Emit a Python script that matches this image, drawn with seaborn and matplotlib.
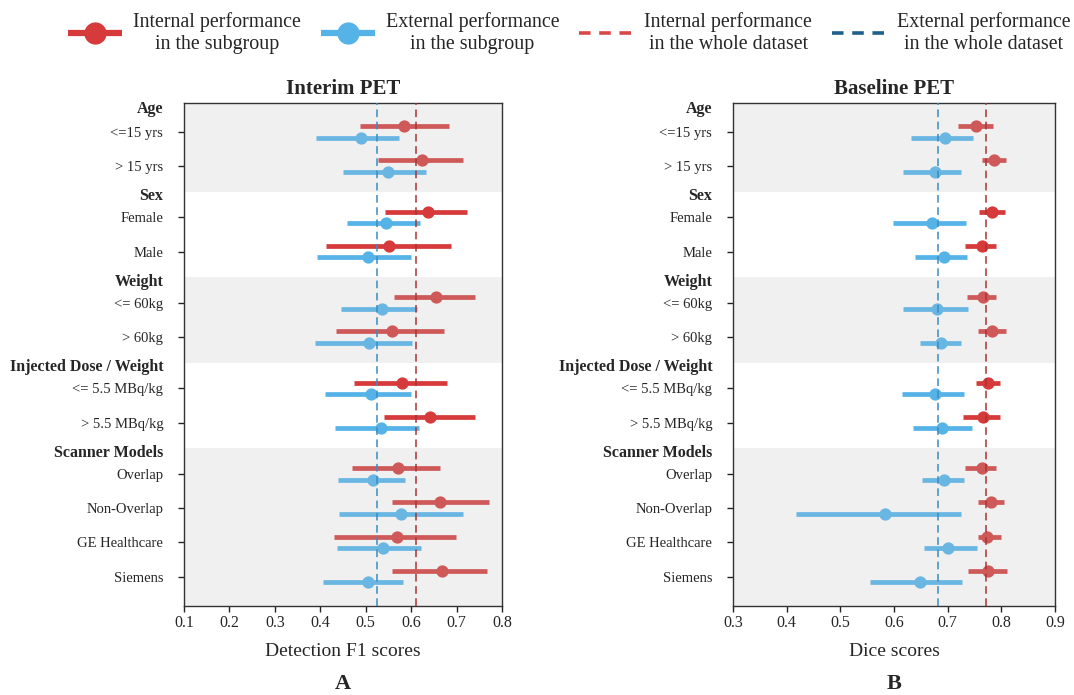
import numpy as np
import pandas as pd
import matplotlib
matplotlib.use("Agg")
import matplotlib.pyplot as plt
from matplotlib.lines import Line2D
import seaborn as sns

# ---------------- data ----------------
groups = ["Age", "Sex", "Weight", "Injected Dose / Weight", "Scanner Models"]
group_sizes = [2, 2, 2, 2, 4]
subgroups = ["<=15 yrs", "> 15 yrs", "Female", "Male", "<= 60kg", "> 60kg",
             "<= 5.5 MBq/kg", "> 5.5 MBq/kg", "Overlap", "Non-Overlap",
             "GE Healthcare", "Siemens"]

# Panel A: Interim PET, detection F1 scores
int_mean_A = [0.584, 0.625, 0.638, 0.552, 0.655, 0.558, 0.579, 0.642, 0.571, 0.664, 0.568, 0.668]
int_lo_A   = [0.487, 0.526, 0.543, 0.413, 0.562, 0.435, 0.475, 0.540, 0.469, 0.557, 0.431, 0.557]
int_hi_A   = [0.683, 0.714, 0.722, 0.687, 0.741, 0.672, 0.678, 0.741, 0.664, 0.772, 0.699, 0.767]
ext_mean_A = [0.490, 0.550, 0.545, 0.504, 0.535, 0.508, 0.512, 0.534, 0.517, 0.577, 0.537, 0.504]
ext_lo_A   = [0.390, 0.449, 0.459, 0.392, 0.446, 0.388, 0.410, 0.433, 0.440, 0.442, 0.436, 0.407]
ext_hi_A   = [0.574, 0.633, 0.620, 0.600, 0.614, 0.603, 0.600, 0.617, 0.586, 0.714, 0.621, 0.582]
whole_int_A = 0.610
whole_ext_A = 0.524

# Panel B: Baseline PET, Dice scores
int_mean_B = [0.753, 0.786, 0.783, 0.764, 0.765, 0.783, 0.775, 0.765, 0.764, 0.781, 0.774, 0.776]
int_lo_B   = [0.720, 0.764, 0.758, 0.733, 0.736, 0.756, 0.752, 0.729, 0.733, 0.756, 0.757, 0.737]
int_hi_B   = [0.784, 0.808, 0.806, 0.791, 0.791, 0.808, 0.797, 0.798, 0.791, 0.805, 0.799, 0.811]
ext_mean_B = [0.695, 0.676, 0.671, 0.693, 0.680, 0.687, 0.676, 0.690, 0.694, 0.583, 0.701, 0.648]
ext_lo_B   = [0.632, 0.616, 0.599, 0.640, 0.616, 0.649, 0.615, 0.635, 0.653, 0.418, 0.655, 0.555]
ext_hi_B   = [0.748, 0.725, 0.735, 0.736, 0.738, 0.725, 0.730, 0.746, 0.731, 0.725, 0.754, 0.726]
whole_int_B = 0.772
whole_ext_B = 0.682

# ---------------- style ----------------
sns.set_theme(style="white")
plt.rcParams["font.family"] = ["Liberation Serif", "DejaVu Serif"]

RED_DARK, RED_LIGHT = "#d63a3a", "#cf5959"
BLUE_DARK, BLUE_LIGHT = "#55b3e8", "#68b6e1"
REF_RED, REF_BLUE = "#a83434", "#3a8cc2"
BAND = "#f0f0f0"

# layout of rows (positions)
row_y = []
header_y = []
band_edges = []
pos = 1.0
for gi, n in enumerate(group_sizes):
    band_edges.append(pos - 0.75)
    header_y.append(pos - 0.67 if gi > 0 else 0.27)
    for k in range(n):
        row_y.append(pos)
        pos += 1.0
    pos += 0.5
row_y = np.array(row_y)
YTOP, YBOT = 0.15, 14.85
band_edges[0] = YTOP
band_edges.append(YBOT)
grey_group = [True, False, True, False, True]
row_grey = []
for gi, n in enumerate(group_sizes):
    row_grey += [grey_group[gi]] * n
row_grey = np.array(row_grey)

DOD = 0.17


def draw_series(ax, y, lo, mid, hi, color):
    lo, mid, hi = map(np.asarray, (lo, mid, hi))
    df = pd.DataFrame({
        "y": np.repeat(y, 3),
        "x": np.column_stack([lo, mid, hi]).ravel(),
    })
    sns.pointplot(data=df, x="x", y="y", orient="y", native_scale=True,
                  estimator="median", errorbar=lambda v: (v.min(), v.max()),
                  color=color, markers="o", linestyle="none", markersize=6.8,
                  err_kws={"linewidth": 3.4, "solid_capstyle": "butt"},
                  legend=False, ax=ax)


def panel(ax, title, xlabel, letter, xlim, xticks,
          im, il, ih, em, el, eh, w_int, w_ext):
    for gi in range(len(groups)):
        if grey_group[gi]:
            ax.axhspan(band_edges[gi], band_edges[gi + 1], color=BAND, zorder=0, lw=0)
    im, il, ih, em, el, eh = map(np.asarray, (im, il, ih, em, el, eh))
    for grey, rc, bc in [(True, RED_LIGHT, BLUE_LIGHT), (False, RED_DARK, BLUE_DARK)]:
        m = row_grey == grey
        draw_series(ax, row_y[m] - DOD, il[m], im[m], ih[m], rc)
        draw_series(ax, row_y[m] + DOD, el[m], em[m], eh[m], bc)
    ax.axvline(w_ext, color=REF_BLUE, lw=1.1, ls=(0, (5, 3)), zorder=6)
    ax.axvline(w_int, color=REF_RED, lw=1.1, ls=(0, (5, 3)), zorder=6)

    ax.set_xlim(*xlim)
    ax.set_xticks(xticks)
    ax.set_xticklabels([f"{t:.1f}" for t in xticks], fontsize=11.5)
    ax.set_ylim(YBOT, YTOP)

    # y ticks: headers + subgroups
    all_pos = list(header_y) + list(row_y)
    all_lab = list(groups) + list(subgroups)
    ax.set_yticks(all_pos)
    ax.set_yticklabels(all_lab)
    ax.tick_params(axis="y", which="major", left=True, length=4, width=1,
                   pad=11, color="#222222")
    ax.tick_params(axis="x", which="major", bottom=True, length=4, width=1,
                   pad=3, color="#222222")
    ticks = ax.yaxis.get_major_ticks()
    for i, (t, lab) in enumerate(zip(ticks, ax.get_yticklabels())):
        if i < len(groups):
            t.tick1line.set_visible(False)
            t.tick1line.set_markersize(0)
            lab.set_fontweight("bold")
            lab.set_fontsize(11.5)
        else:
            lab.set_fontsize(10.5)
    ax.set_ylabel("")
    ax.set_xlabel(xlabel, fontsize=14, labelpad=8)
    ax.set_title(title, fontsize=15, fontweight="bold", pad=6)
    for s in ax.spines.values():
        s.set_visible(True)
        s.set_color("#333333")
        s.set_linewidth(1.0)
    ax.text(0.5, -0.155, letter, transform=ax.transAxes, ha="center", va="center",
            fontsize=16, fontweight="bold")


fig = plt.figure(figsize=(10.74, 6.95), dpi=100)
axA = fig.add_axes([0.1713, 0.1285, 0.2961, 0.7237])
axB = fig.add_axes([0.6825, 0.1285, 0.2998, 0.7237])

panel(axA, "Interim PET", "Detection F1 scores", "A", (0.1, 0.8),
      [0.1, 0.2, 0.3, 0.4, 0.5, 0.6, 0.7, 0.8],
      int_mean_A, int_lo_A, int_hi_A, ext_mean_A, ext_lo_A, ext_hi_A,
      whole_int_A, whole_ext_A)
panel(axB, "Baseline PET", "Dice scores", "B", (0.3, 0.9),
      [0.3, 0.4, 0.5, 0.6, 0.7, 0.8, 0.9],
      int_mean_B, int_lo_B, int_hi_B, ext_mean_B, ext_lo_B, ext_hi_B,
      whole_int_B, whole_ext_B)

handles = [
    Line2D([], [], color="#d63a3a", lw=4.5, marker="o", markersize=15, solid_capstyle="butt"),
    Line2D([], [], color="#55b3e8", lw=4.5, marker="o", markersize=15, solid_capstyle="butt"),
    Line2D([], [], color="#d94848", lw=2.6, ls=(0, (3.2, 2.4))),
    Line2D([], [], color="#1f5f8b", lw=2.6, ls=(0, (3.2, 2.4))),
]
labels = ["Internal performance\nin the subgroup", "External performance\nin the subgroup",
          "Internal performance\nin the whole dataset", "External performance\nin the whole dataset"]
leg = fig.legend(handles, labels, loc="upper center", bbox_to_anchor=(0.53, 1.008),
                 ncol=4, frameon=False, fontsize=14.4, handlelength=2.7,
                 handletextpad=0.55, columnspacing=1.0)
for t in leg.get_texts():
    t.set_multialignment("center")

fig.savefig("out.png", dpi=100)
